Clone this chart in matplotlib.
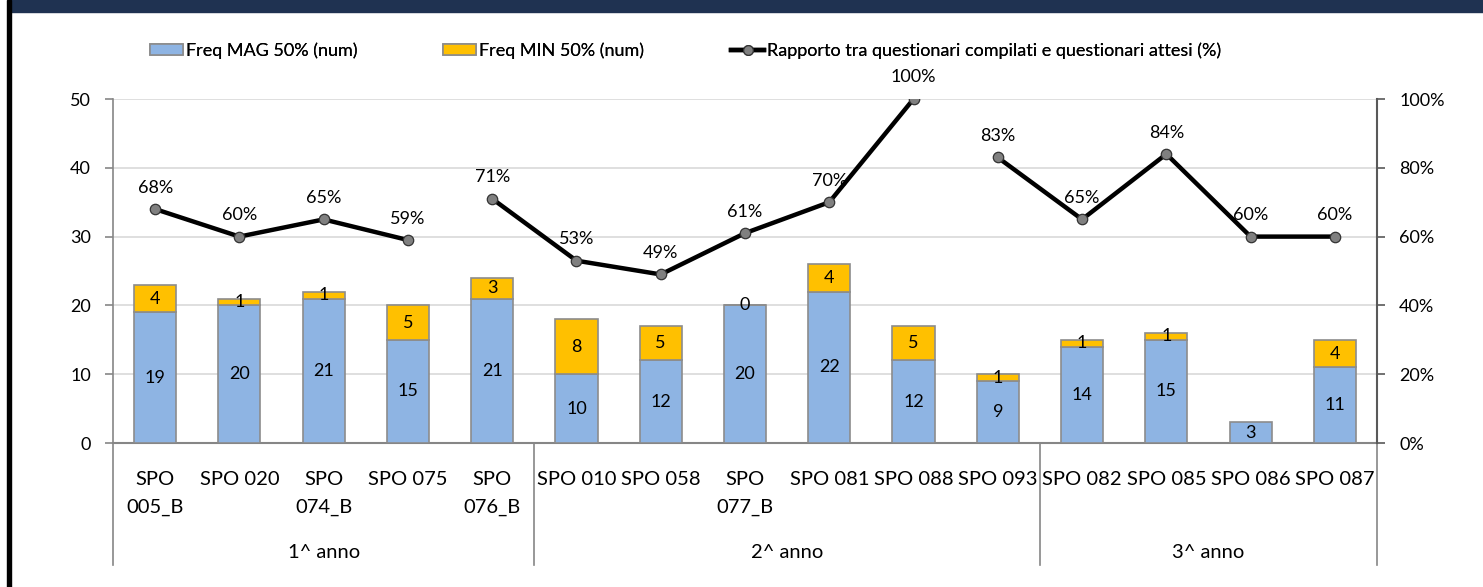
import numpy as np
import matplotlib
matplotlib.use("Agg")
import matplotlib.pyplot as plt
from matplotlib.patches import Rectangle
from matplotlib.lines import Line2D

# ---------------- data ----------------
categories = ["SPO\n005_B", "SPO 020", "SPO\n074_B", "SPO 075", "SPO\n076_B",
              "SPO 010", "SPO 058", "SPO\n077_B", "SPO 081", "SPO 088", "SPO 093",
              "SPO 082", "SPO 085", "SPO 086", "SPO 087"]
groups = ["1^ anno", "2^ anno", "3^ anno"]
group_sizes = [5, 6, 4]
freq_mag = [19, 20, 21, 15, 21, 10, 12, 20, 22, 12, 9, 14, 15, 3, 11]
freq_min = [4, 1, 1, 5, 3, 8, 5, 0, 4, 5, 1, 1, 1, np.nan, 4]
rapporto = [68, 60, 65, 59, 71, 53, 49, 61, 70, 100, 83, 65, 84, 60, 60]
line_breaks_after = [3, 9]   # no connecting segment after these indices

series_names = ["Freq MAG 50% (num)", "Freq MIN 50% (num)",
                "Rapporto tra questionari compilati e questionari attesi (%)"]
left_ticks = [0, 10, 20, 30, 40, 50]
right_ticks = [0, 20, 40, 60, 80, 100]

# ---------------- style ----------------
plt.rcParams['font.family'] = ['Lato', 'DejaVu Sans']
BLUE = "#8EB4E3"
YELLOW = "#FFC000"
EDGE = "#8C8C8C"
GRID = "#D9D9D9"
AXC = "#868686"
TXT = "#000000"

W, H = 1483, 587
fig = plt.figure(figsize=(W / 100, H / 100), dpi=100)

# frame decorations
fig.patches.append(Rectangle((11 / W, 1 - 12 / H), 1 - 11 / W, 12 / H,
                             transform=fig.transFigure, color="#1F3251", zorder=0))
fig.patches.append(Rectangle((7 / W, 0), 4 / W, 1,
                             transform=fig.transFigure, color="#000000", zorder=0))

x0, x1, ytop, ybot = 113, 1377, 99, 443
ax = fig.add_axes([x0 / W, 1 - ybot / H, (x1 - x0) / W, (ybot - ytop) / H])
ax2 = ax.twinx()

n = len(categories)
x = np.arange(n)
mag = np.array(freq_mag, dtype=float)
mn = np.array(freq_min, dtype=float)

b1 = ax.bar(x, mag, width=0.5, color=BLUE, edgecolor=EDGE, linewidth=1.2, zorder=3)
b2 = ax.bar(x, mn, width=0.5, bottom=mag, color=YELLOW, edgecolor=EDGE, linewidth=1.2, zorder=3)

lab_fs = 13
ax.bar_label(b1, labels=[f"{int(v)}" for v in mag], label_type='center',
             fontsize=lab_fs, color=TXT, zorder=5)
ax.bar_label(b2, labels=["" if np.isnan(v) else f"{int(v)}" for v in mn],
             label_type='center', fontsize=lab_fs, color=TXT, zorder=5)

ax.set_xlim(-0.5, n - 0.5)
ax.set_ylim(0, 50)
ax.set_yticks(left_ticks)
ax.yaxis.grid(True, color=GRID, linewidth=1.2, zorder=0)
ax.set_axisbelow(True)
ax.tick_params(axis='y', which='both', length=6, width=1.2, color=AXC,
               labelsize=13, pad=10, labelcolor=TXT, direction='out')
ax.set_xticks([])
for s in ['top', 'right']:
    ax.spines[s].set_visible(False)
ax.spines['left'].set_color(AXC)
ax.spines['left'].set_linewidth(1.2)
ax.spines['bottom'].set_color(AXC)
ax.spines['bottom'].set_linewidth(1.5)

# line series on secondary axis
r = np.array(rapporto, dtype=float)
edges = [0] + [i + 1 for i in line_breaks_after] + [n]
for a, b in zip(edges[:-1], edges[1:]):
    ax2.plot(x[a:b], r[a:b], color="black", linewidth=3.2, marker='o',
             markersize=7.5, markerfacecolor="#808080", markeredgecolor="#333333",
             markeredgewidth=0.9, zorder=6, solid_capstyle='butt')
for xi, ri in zip(x, r):
    ax2.annotate(f"{int(ri)}%", (xi, ri), xytext=(0, 15.5), textcoords='offset points',
                 ha='center', va='center', fontsize=lab_fs, color=TXT, zorder=7)
ax2.set_ylim(0, 100)
ax2.set_yticks(right_ticks)
ax2.set_yticklabels([f"{t}%" for t in right_ticks])
ax2.tick_params(axis='y', length=6, width=1.2, color="#595959", labelsize=13,
                pad=10, labelcolor=TXT, direction='out')
for s in ['top', 'left', 'bottom']:
    ax2.spines[s].set_visible(False)
ax2.spines['right'].set_color("#595959")
ax2.spines['right'].set_linewidth(1.5)
ax2.set_zorder(ax.get_zorder() + 1)
ax2.patch.set_visible(False)

# category labels (multi-level axis)
cat_fs = 14.5
trans = ax.get_xaxis_transform()
for xi, c in zip(x, categories):
    ax.text(xi, -(471 - ybot) / (ybot - ytop), c, transform=trans,
            ha='center', va='top', fontsize=cat_fs, color=TXT, linespacing=1.75)
# separators and group labels
sep_bottom = -(565 - ybot) / (ybot - ytop)
bounds = np.concatenate([[0], np.cumsum(group_sizes)]) - 0.5
for bx in bounds:
    ax.plot([bx, bx], [0, sep_bottom], transform=trans, color=AXC, linewidth=1.2,
            clip_on=False, zorder=2)
grp_y = -(553 - ybot) / (ybot - ytop)
for g, a, b in zip(groups, bounds[:-1], bounds[1:]):
    ax.text((a + b) / 2, grp_y, g, transform=trans, ha='center', va='center',
            fontsize=cat_fs, color=TXT)

# legend (three entries placed along the top)
leg_y = 1 - 51 / H
h1 = Rectangle((0, 0), 1, 1, facecolor=BLUE, edgecolor=EDGE, linewidth=1.2)
h2 = Rectangle((0, 0), 1, 1, facecolor=YELLOW, edgecolor=EDGE, linewidth=1.2)
h3 = Line2D([], [], color="black", linewidth=3.2, marker='o', markersize=7,
            markerfacecolor="#808080", markeredgecolor="#333333", markeredgewidth=0.9)
for h, name, lx in zip([h1, h2, h3], series_names, [150, 443, 731]):
    lg = fig.legend([h], [name], loc='center left', bbox_to_anchor=(lx / W, leg_y),
                    frameon=False, fontsize=13, handlelength=1.85, handleheight=0.55,
                    handletextpad=0.15, borderpad=0, borderaxespad=0)
    fig.add_artist(lg)

fig.savefig("out.png", dpi=100, facecolor="white")
